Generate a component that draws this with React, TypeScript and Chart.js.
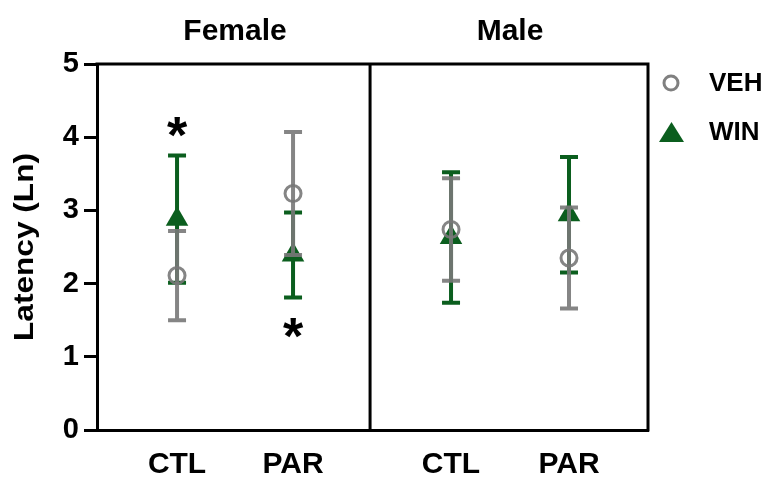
import React, { useEffect, useRef } from "react";
import { Chart, registerables } from "chart.js";

Chart.register(...registerables);

const categories = ["CTL", "PAR", "CTL", "PAR"];
const categoryPositions = [1, 2, 3.362, 4.379];
const groups = ["Female", "Male"];
const groupDivider = 2.664;
const vehMean = [2.11, 3.23, 2.74, 2.35];
const vehErr = [0.61, 0.84, 0.7, 0.69];
const winMean = [2.88, 2.39, 2.63, 2.94];
const winErr = [0.87, 0.58, 0.89, 0.79];
const starPositions = [1, 2];
const starValues = [4.13, 1.39];
const yTicks = [0, 1, 2, 3, 4, 5];

const GRAY = "rgba(120,120,120,0.9)";
const GREEN = "#0b5e1e";
const FONT = "'Liberation Sans', Arial, sans-serif";

const errs = [vehErr, winErr];
const means = [vehMean, winMean];
const colors = [GRAY, GREEN];

const customPlugin = {
  id: "custom",
  beforeDatasetDraw(chart: any, args: any) {
    const i = args.index;
    const ctx = chart.ctx;
    const x = chart.scales.x;
    const y = chart.scales.y;
    ctx.save();
    ctx.strokeStyle = colors[i];
    ctx.lineWidth = 4;
    ctx.lineCap = "butt";
    means[i].forEach((m: number, k: number) => {
      const px = x.getPixelForValue(categoryPositions[k]);
      const top = y.getPixelForValue(m + errs[i][k]);
      const bot = y.getPixelForValue(m - errs[i][k]);
      ctx.beginPath();
      ctx.moveTo(px, top);
      ctx.lineTo(px, bot);
      ctx.moveTo(px - 9, top);
      ctx.lineTo(px + 9, top);
      ctx.moveTo(px - 9, bot);
      ctx.lineTo(px + 9, bot);
      ctx.stroke();
    });
    ctx.restore();
  },
  afterDraw(chart: any) {
    const ctx = chart.ctx;
    const x = chart.scales.x;
    const y = chart.scales.y;
    const ca = chart.chartArea;
    ctx.save();
    // frame: top, right, divider
    ctx.strokeStyle = "#000";
    ctx.lineWidth = 3;
    ctx.beginPath();
    ctx.moveTo(ca.left - 1.5, ca.top);
    ctx.lineTo(ca.right, ca.top);
    ctx.lineTo(ca.right, ca.bottom + 1.5);
    const dx = x.getPixelForValue(groupDivider);
    ctx.moveTo(dx, ca.top);
    ctx.lineTo(dx, ca.bottom);
    ctx.stroke();

    // group titles
    ctx.fillStyle = "#000";
    ctx.font = `bold 30px ${FONT}`;
    ctx.textAlign = "center";
    ctx.textBaseline = "middle";
    groups.forEach((g, gi) => {
      const c = (categoryPositions[gi * 2] + categoryPositions[gi * 2 + 1]) / 2;
      ctx.fillText(g, x.getPixelForValue(c), 32);
    });

    // y title (stretched to match)
    ctx.save();
    ctx.translate(25, (ca.top + ca.bottom) / 2);
    ctx.rotate(-Math.PI / 2);
    ctx.font = `bold 28px ${FONT}`;
    const title = "Latency (Ln)";
    const w = ctx.measureText(title).width;
    ctx.scale(188 / w, 1);
    ctx.fillText(title, 0, 0);
    ctx.restore();

    // stars
    const starSize = 52;
    ctx.font = `bold ${starSize}px ${FONT}`;
    ctx.textBaseline = "alphabetic";
    starPositions.forEach((p, k) => {
      const px = x.getPixelForValue(p);
      const py = y.getPixelForValue(starValues[k]);
      ctx.fillText("*", px, py + 0.49 * starSize);
    });

    // legend
    ctx.lineWidth = 3;
    ctx.strokeStyle = "rgb(128,128,128)";
    ctx.beginPath();
    ctx.arc(671, 83, 7, 0, Math.PI * 2);
    ctx.stroke();
    ctx.fillStyle = GREEN;
    ctx.beginPath();
    ctx.moveTo(671.5, 122);
    ctx.lineTo(684, 142);
    ctx.lineTo(659, 142);
    ctx.closePath();
    ctx.fill();
    ctx.fillStyle = "#000";
    ctx.font = `bold 26px ${FONT}`;
    ctx.textAlign = "left";
    ctx.textBaseline = "middle";
    ctx.fillText("VEH", 709, 84);
    ctx.fillText("WIN", 709, 133);
    ctx.restore();
  },
};

export default function App() {
  const ref = useRef<HTMLCanvasElement>(null);
  useEffect(() => {
    const chart = new Chart(ref.current!, {
      type: "scatter",
      data: {
        datasets: [
          {
            label: "VEH",
            data: vehMean.map((v, i) => ({ x: categoryPositions[i], y: v })),
            pointStyle: "circle",
            pointRadius: 8,
            pointBorderWidth: 3,
            pointBorderColor: GRAY,
            pointBackgroundColor: "rgba(0,0,0,0)",
            order: 1,
          },
          {
            label: "WIN",
            data: winMean.map((v, i) => ({ x: categoryPositions[i], y: v })),
            pointStyle: "triangle",
            pointRadius: 13,
            pointBorderWidth: 0,
            pointBorderColor: GREEN,
            pointBackgroundColor: GREEN,
            order: 2,
          },
        ],
      },
      plugins: [customPlugin],
      options: {
        animation: false,
        responsive: false,
        events: [],
        layout: { padding: { top: 64, right: 129, left: 0, bottom: 0 } },
        plugins: { legend: { display: false }, tooltip: { enabled: false } },
        scales: {
          x: {
            type: "linear",
            min: 0.31,
            max: 5.06,
            afterFit: (s: any) => {
              s.height = 48;
            },
            afterBuildTicks: (s: any) => {
              s.ticks = categoryPositions.map((v) => ({ value: v }));
            },
            ticks: {
              autoSkip: false,
              maxRotation: 0,
              padding: 17,
              color: "#000",
              font: { family: FONT, size: 30, weight: "bold" },
              callback: (v: any) => {
                const i = categoryPositions.indexOf(Number(v));
                return i >= 0 ? categories[i] : "";
              },
            },
            grid: { display: false, drawTicks: false },
            border: { display: true, color: "#000", width: 3 },
          },
          y: {
            type: "linear",
            min: 0,
            max: 5,
            afterFit: (s: any) => {
              s.width = 97;
            },
            afterBuildTicks: (s: any) => {
              s.ticks = yTicks.map((v) => ({ value: v }));
            },
            ticks: {
              padding: 5,
              color: "#000",
              font: { family: FONT, size: 29, weight: "bold" },
            },
            grid: {
              display: true,
              drawOnChartArea: false,
              drawTicks: true,
              tickLength: 13,
              tickWidth: 3,
              tickColor: "#000",
            },
            border: { display: true, color: "#000", width: 3 },
          },
        },
      },
    });
    return () => chart.destroy();
  }, []);
  return (
    <div style={{ position: "absolute", left: 0, top: 0, width: 777, height: 478, background: "#fff" }}>
      <canvas ref={ref} width={777} height={478} style={{ display: "block" }} />
    </div>
  );
}
